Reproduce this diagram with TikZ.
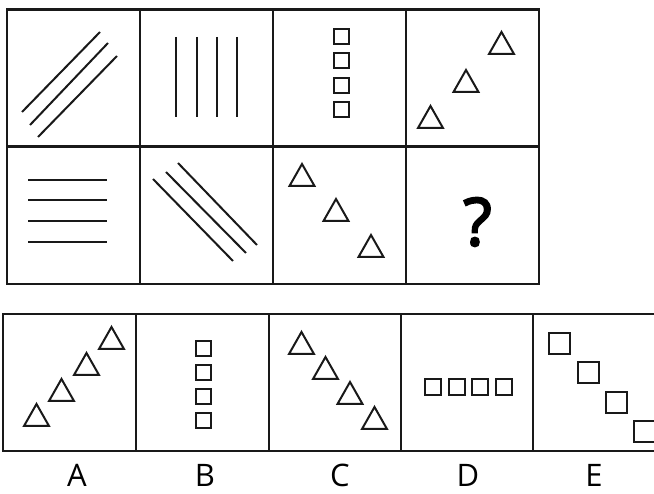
\documentclass[tikz,border=0pt]{standalone}
\usepackage{fontspec}
\setmainfont{Open Sans}
\newfontfamily\qfont[FakeBold=3]{Open Sans}
\begin{document}
\begin{tikzpicture}[x=1pt,y=-1pt,
  gridline/.style={line width=2.3pt,draw=black!90},
  shp/.style={line width=2pt,draw=black!90},
  lbl/.style={font=\fontsize{31}{36}\selectfont,anchor=base,inner sep=0pt},
  qmark/.style={font=\fontsize{66}{70}\qfont,inner sep=0pt}]
\useasboundingbox (0,0) rectangle (654,494);
\clip (0,0) rectangle (654,494);
% top grid
\draw[gridline] (7,9.5) rectangle (539,284);
\foreach \x in {140,273,406} \draw[gridline] (\x,9.5) -- (\x,284);
\draw[gridline] (7,146.5) -- (539,146.5);
% bottom row
\draw[gridline] (3,314) rectangle (666,451);
\foreach \x in {136,269,401,533} \draw[gridline] (\x,314) -- (\x,451);
% cell 1
\draw[shp] (22,112) -- (100,32);
\draw[shp] (30,125) -- (108,43);
\draw[shp] (38,137) -- (117,56);
% cell 2
\foreach \x in {176,196.5,216.5,237} \draw[shp] (\x,37) -- (\x,117);
% cell 3
\foreach \y in {29,53.3,77.7,102} \draw[shp] (333.5,\y) rectangle ++(15,15);
% cell 4
\foreach \cx/\by in {430.5/128,466/92,501.5/54}
  \draw[shp,line join=miter] (\cx-12.5,\by) -- (\cx,\by-22) -- (\cx+12.5,\by) -- cycle;
% cell 5
\foreach \y in {180,200,221,242} \draw[shp] (28,\y) -- (107,\y);
% cell 6
\draw[shp] (153,179) -- (233,261);
\draw[shp] (166,172) -- (246,253);
\draw[shp] (178,163) -- (257,245);
% cell 7
\foreach \cx/\by in {302/186,336/221,371/257}
  \draw[shp,line join=miter] (\cx-12.5,\by) -- (\cx,\by-22) -- (\cx+12.5,\by) -- cycle;
% cell 8
\node[qmark] (q) at (477.5,222) {?};
% A
\foreach \cx/\by in {36.5/426,61.5/401,86.5/375,111.5/349}
  \draw[shp,line join=miter] (\cx-12.5,\by) -- (\cx,\by-22) -- (\cx+12.5,\by) -- cycle;
% B
\foreach \y in {341,365,389,413} \draw[shp] (196,\y) rectangle ++(15,15);
% C
\foreach \cx/\by in {301.5/354,325.5/379,350/404,374.5/429}
  \draw[shp,line join=miter] (\cx-12.5,\by) -- (\cx,\by-22) -- (\cx+12.5,\by) -- cycle;
% D
\foreach \x in {425,448.5,472,496} \draw[shp] (\x,379) rectangle ++(16,16);
% E
\foreach \x/\y in {549/333,578/362,606/392,634/421} \draw[shp] (\x,\y) rectangle ++(21,21);
% labels
\node[lbl] (la) at (77,487) {A};
\node[lbl] (lb) at (205,487) {B};
\node[lbl] (lc) at (340,487) {C};
\node[lbl] (ld) at (468,487) {D};
\node[lbl] (le) at (594,487) {E};
\end{tikzpicture}
\end{document}
